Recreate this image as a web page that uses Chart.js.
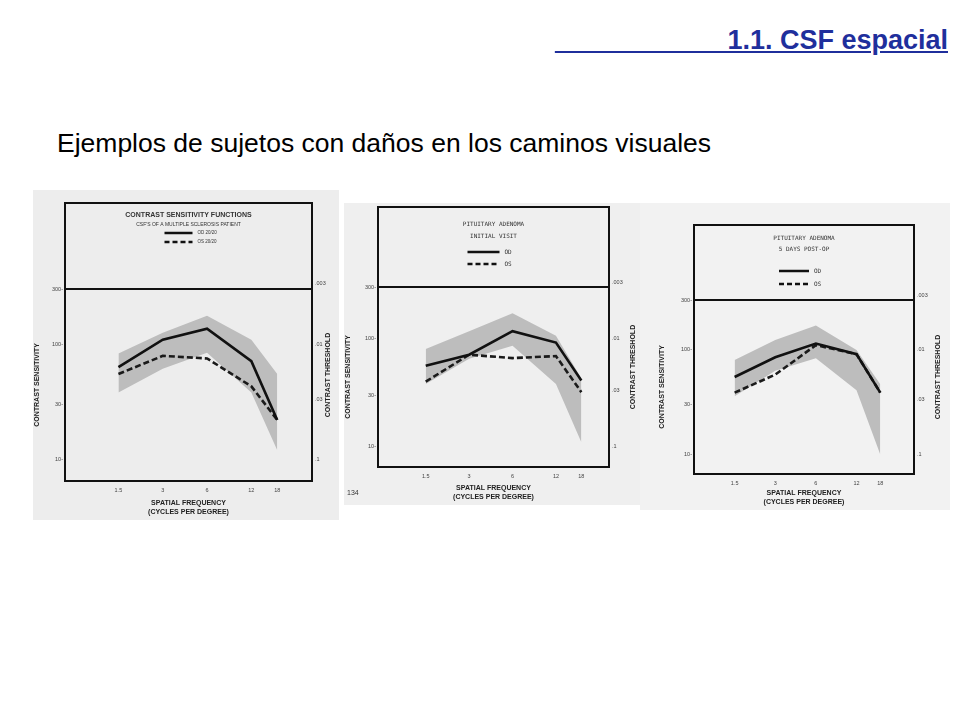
<!DOCTYPE html>
<html><head><meta charset="utf-8">
<script src="https://cdn.jsdelivr.net/npm/chart.js@4.4.1/dist/chart.umd.min.js"></script>
<style>
body{margin:0;width:960px;height:720px;background:#fff;position:relative;overflow:hidden;font-family:"Liberation Sans",Arial,sans-serif}
#t1{position:absolute;left:555px;top:25px;width:393px;color:#1f2f9c;font-weight:bold;font-size:27px;white-space:pre}
#t1 span{text-decoration:underline;position:absolute;right:0;top:0}
#t2{position:absolute;left:57px;top:128px;font-size:26.5px;color:#000}
.p{position:absolute}
canvas{display:block}
</style></head><body>
<div id="t1"><span>&nbsp;&nbsp;&nbsp;&nbsp;&nbsp;&nbsp;&nbsp;&nbsp;&nbsp;&nbsp;&nbsp;&nbsp;&nbsp;&nbsp;&nbsp;&nbsp;&nbsp;&nbsp;&nbsp;&nbsp;&nbsp;&nbsp;&nbsp;1.1. CSF espacial</span></div>
<div id="t2">Ejemplos de sujetos con daños en los caminos visuales</div>
<div class="p" style="left:33px;top:190px;width:306px;height:330px;background:#ededed"><canvas id="c1" width="306" height="330"></canvas></div>
<div class="p" style="left:344px;top:203px;width:296px;height:302px;background:#efefef"><canvas id="c2" width="296" height="302"></canvas></div>
<div class="p" style="left:640px;top:203px;width:310px;height:307px;background:#f2f2f2"><canvas id="c3" width="310" height="307"></canvas></div>
<script>
const frequencies=[1.5,3,6,12,18];
const tickLabels=["1.5","3","6","12","18"];
const sensTicks=[10,30,100,300];
const threshTicks=[0.003,0.01,0.03,0.1];
// panel 1: multiple sclerosis
const ms_OD=[63,109,136,71,22];
const ms_OS=[55,79,75,43,22];
const ms_normHigh=[83,125,176,109,55];
const ms_normLow=[38,61,84,38,12];
// panel 2: pituitary adenoma initial visit
const pa1_OD=[56,71,117,92,41];
const pa1_OS=[40,71,66,69,32];
const pa1_normHigh=[80,117,172,106,43];
const pa1_normLow=[38,65,86,38,11];
// panel 3: 5 days post-op
const pa2_OD=[55,85,115,91,39];
const pa2_OS=[39,58,111,91,39];
const pa2_normHigh=[80,124,171,100,47];
const pa2_normLow=[36,63,83,41,10];

function pts(v){return frequencies.map((f,i)=>({x:f,y:v[i]}));}
function make(id,cfg){
  const el=document.getElementById(id);
  const H=el.height,W=el.width;
  const tf='"Liberation Sans", Arial, sans-serif';
  const frame={id:'frame',afterDraw(ch){
    const c=ch.ctx,a=ch.chartArea;
    c.save();c.strokeStyle='#111';c.lineWidth=2;
    c.strokeRect(a.left,a.top-cfg.head,a.right-a.left,a.bottom-a.top+cfg.head);
    c.beginPath();c.moveTo(a.left,a.top);c.lineTo(a.right,a.top);c.stroke();
    const cx=(a.left+a.right)/2,top=a.top-cfg.head;
    c.fillStyle='#333';c.textAlign='center';c.textBaseline='middle';
    c.font=cfg.f1;c.fillText(cfg.h1,cx,top+cfg.y1);
    c.font=cfg.f2;c.fillText(cfg.h2,cx,top+cfg.y2);
    const lx=cx-cfg.lw/2-10;
    c.strokeStyle='#111';c.lineWidth=2.5;
    c.beginPath();c.moveTo(lx,top+cfg.ly1);c.lineTo(lx+cfg.lw,top+cfg.ly1);c.stroke();
    c.setLineDash([5,3]);c.beginPath();c.moveTo(lx,top+cfg.ly2);c.lineTo(lx+cfg.lw,top+cfg.ly2);c.stroke();c.setLineDash([]);
    c.textAlign='left';c.font=cfg.fl;c.fillStyle='#333';
    c.fillText(cfg.l1,lx+cfg.lw+5,top+cfg.ly1);c.fillText(cfg.l2,lx+cfg.lw+5,top+cfg.ly2);
    if(cfg.page){c.font='7px "Liberation Sans"';c.fillText(cfg.page,3,H-12);}
    c.save();c.translate(W-cfg.rtx,(a.top+a.bottom)/2-10);c.rotate(-Math.PI/2);
    c.textAlign='center';c.font='bold 7px "Liberation Sans"';c.fillStyle='#222';
    c.fillText('CONTRAST THRESHOLD',0,0);c.restore();
    c.restore();
  }};
  new Chart(el,{type:'line',
    data:{datasets:[
      {data:pts(cfg.hi),fill:'+1',backgroundColor:'#bdbdbd',borderWidth:0,pointRadius:0,tension:0,order:3},
      {data:pts(cfg.lo),fill:false,borderWidth:0,pointRadius:0,tension:0,order:4},
      {data:pts(cfg.os),borderColor:'#1a1a1a',borderWidth:2.6,borderDash:[6,3],pointRadius:0,fill:false,tension:0,order:2},
      {data:pts(cfg.od),borderColor:'#111',borderWidth:2.6,pointRadius:0,fill:false,tension:0,order:1}
    ]},
    options:{responsive:false,animation:false,devicePixelRatio:1,
      layout:{padding:{top:cfg.pt,left:cfg.pl||0,right:0,bottom:0}},
      plugins:{legend:{display:false},tooltip:{enabled:false}},
      scales:{
        x:{type:'logarithmic',min:cfg.xmin,max:cfg.xmax,grid:{display:false,drawTicks:false},border:{display:false},
          afterBuildTicks:s=>{s.ticks=frequencies.map(v=>({value:v}));},
          afterFit:s=>{s.height=cfg.bb;},
          ticks:{font:{size:5.5,family:tf},color:'#444',padding:6,maxRotation:0,autoSkip:false,callback:(v)=>tickLabels[frequencies.indexOf(v)]},
          title:{display:true,text:['SPATIAL FREQUENCY','(CYCLES PER DEGREE)'],font:{size:7,weight:'bold',family:tf},color:'#222',padding:{top:4}}},
        y:{type:'logarithmic',min:6.5,max:300,grid:{display:false,drawTicks:false},border:{display:false},
          afterBuildTicks:s=>{s.ticks=sensTicks.map(v=>({value:v}));},
          afterFit:s=>{s.width=cfg.lw0;},
          ticks:{font:{size:5.5,family:tf},color:'#444',padding:2,autoSkip:false,callback:v=>String(v)+'-'},
          title:{display:true,text:'CONTRAST SENSITIVITY',font:{size:7,weight:'bold',family:tf},color:'#222',padding:0}},
        y2:{type:'logarithmic',position:'right',reverse:true,min:1/300,max:1/6.5,grid:{display:false,drawTicks:false},border:{display:false},
          afterBuildTicks:s=>{s.ticks=threshTicks.map(v=>({value:v}));},
          afterFit:s=>{s.width=cfg.rw;},
          ticks:{font:{size:5.5,family:tf},color:'#444',padding:3,autoSkip:false,callback:v=>String(v).replace(/^0/,'')}}
      }},
    plugins:[frame]});
}
make('c1',{od:ms_OD,os:ms_OS,hi:ms_normHigh,lo:ms_normLow,pt:99,bb:39,lw0:32,rw:27,rtx:11,xmin:0.65,xmax:31,head:86,
  h1:'CONTRAST SENSITIVITY FUNCTIONS',h2:"CSF'S OF A MULTIPLE SCLEROSIS PATIENT",f1:'bold 7px "Liberation Sans"',f2:'5px "Liberation Sans"',y1:12,y2:22,
  lw:28,ly1:30,ly2:39,l1:'OD 20/20',l2:'OS 20/20',fl:'4.5px "Liberation Sans"'});
make('c2',{od:pa1_OD,os:pa1_OS,hi:pa1_normHigh,lo:pa1_normLow,pt:84,bb:38,lw0:34,rw:31,rtx:7,xmin:0.7,xmax:28,head:80,
  h1:'PITUITARY ADENOMA',h2:'INITIAL VISIT',f1:'6px "DejaVu Sans Mono"',f2:'6px "DejaVu Sans Mono"',y1:17,y2:29,
  lw:32,ly1:45,ly2:57,l1:'OD',l2:'OS',fl:'6px "DejaVu Sans Mono"',page:'134'});
make('c3',{od:pa2_OD,os:pa2_OS,hi:pa2_normHigh,lo:pa2_normLow,pt:97,pl:18,bb:36,lw0:36,rw:36,rtx:12,xmin:0.75,xmax:32,head:75,
  h1:'PITUITARY ADENOMA',h2:'5 DAYS POST-OP',f1:'6px "DejaVu Sans Mono"',f2:'6px "DejaVu Sans Mono"',y1:13,y2:24,
  lw:30,ly1:46,ly2:59,l1:'OD',l2:'OS',fl:'6px "DejaVu Sans Mono"'});
</script>
</body></html>
